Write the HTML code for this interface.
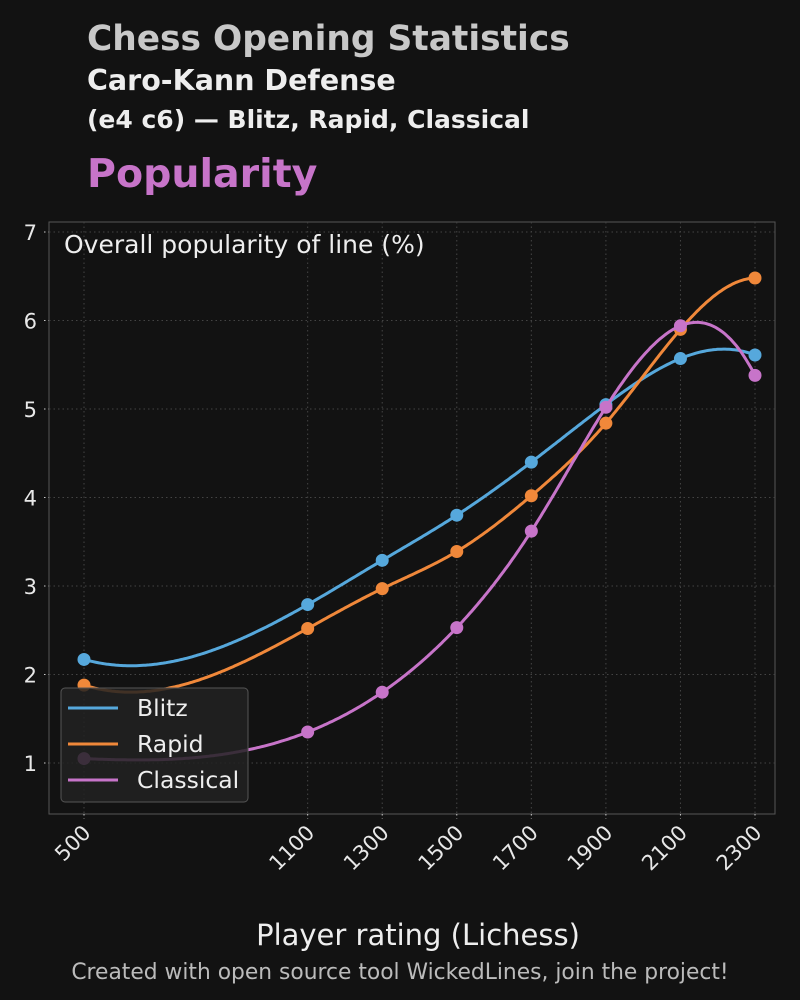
<!DOCTYPE html>
<html><head><meta charset="utf-8"><style>
body{margin:0;background:#121212;width:800px;height:996px;overflow:hidden;font-family:"DejaVu Sans","Liberation Sans",sans-serif}
</style></head><body>
<svg id="s" width="800" height="996" xmlns="http://www.w3.org/2000/svg" font-family="DejaVu Sans, Liberation Sans, sans-serif">
<rect width="800" height="996" fill="#121212"/>
<text x="87" y="50" font-size="34.4" font-weight="bold" fill="#c8c8c8">Chess Opening Statistics</text>
<text x="87" y="90" font-size="28.5" font-weight="bold" fill="#eeeeee">Caro-Kann Defense</text>
<text x="87" y="128" font-size="25" font-weight="bold" fill="#eeeeee">(e4 c6) — Blitz, Rapid, Classical</text>
<text x="87" y="187" font-size="39.5" font-weight="bold" fill="#c774c9">Popularity</text>
<rect x="49" y="222" width="726" height="592" fill="none" stroke="#555" stroke-width="1"/>
<g id="grid" stroke="#444" stroke-width="1" stroke-dasharray="1.5,3"></g>
<g id="ticks" fill="#e8e8e8" font-size="21"></g>
<text x="64" y="253" font-size="25" fill="#eeeeee">Overall popularity of line (%)</text>
<g id="series"></g>
<rect x="61" y="688" width="187" height="114" rx="4" fill="#222" fill-opacity="0.85" stroke="#555"/>
<line x1="68" y1="708" x2="118" y2="708" stroke="#56a8dc" stroke-width="3"/>
<text x="137" y="716" font-size="23.5" fill="#eeeeee">Blitz</text>
<line x1="68" y1="744" x2="118" y2="744" stroke="#f0883a" stroke-width="3"/>
<text x="137" y="752" font-size="23.5" fill="#eeeeee">Rapid</text>
<line x1="68" y1="780" x2="118" y2="780" stroke="#c774c9" stroke-width="3"/>
<text x="137" y="788" font-size="23.5" fill="#eeeeee">Classical</text>
<text x="418" y="945" font-size="29" fill="#eeeeee" text-anchor="middle">Player rating (Lichess)</text>
<text x="400" y="979" font-size="21.8" fill="#bbbbbb" text-anchor="middle">Created with open source tool WickedLines, join the project!</text>
</svg>
<script>
const NS="http://www.w3.org/2000/svg";
const X=r=>84+(r-500)*671/1800, Y=v=>763-(v-1)*88.5;
function el(t,a,p){const e=document.createElementNS(NS,t);for(const k in a)e.setAttribute(k,a[k]);document.getElementById(p).appendChild(e);return e;}
const xs=[500,1100,1300,1500,1700,1900,2100,2300];
for(let v=1;v<=7;v++){el('line',{x1:49,x2:775,y1:Y(v),y2:Y(v)},'grid');el('line',{x1:44,x2:49,y1:Y(v),y2:Y(v),stroke:'#ccc'},'grid').removeAttribute('stroke-dasharray');
 const t=el('text',{x:37,y:Y(v)+8,'text-anchor':'end'},'ticks');t.textContent=v;}
xs.forEach(r=>{el('line',{x1:X(r),x2:X(r),y1:222,y2:814},'grid');const l=el('line',{x1:X(r),x2:X(r),y1:814,y2:819,stroke:'#ccc'},'grid');l.removeAttribute('stroke-dasharray');
 const t=el('text',{x:0,y:0,'text-anchor':'end',transform:`translate(${X(r)+8},${834}) rotate(-45)`},'ticks');t.textContent=r;});
function solve(A,b){const n=b.length;for(let i=0;i<n;i++){let p=i;for(let k=i+1;k<n;k++)if(Math.abs(A[k][i])>Math.abs(A[p][i]))p=k;[A[i],A[p]]=[A[p],A[i]];[b[i],b[p]]=[b[p],b[i]];
 for(let k=i+1;k<n;k++){const f=A[k][i]/A[i][i];for(let j=i;j<n;j++)A[k][j]-=f*A[i][j];b[k]-=f*b[i];}}
 const x=new Array(n);for(let i=n-1;i>=0;i--){let s=b[i];for(let j=i+1;j<n;j++)s-=A[i][j]*x[j];x[i]=s/A[i][i];}return x;}
function spline(x,y){const n=x.length,h=[];for(let i=0;i<n-1;i++)h[i]=x[i+1]-x[i];
 const A=[],b=[];for(let i=0;i<n;i++){A.push(new Array(n).fill(0));b.push(0);}
 A[0][0]=-1/h[0];A[0][1]=1/h[0]+1/h[1];A[0][2]=-1/h[1];
 for(let i=1;i<n-1;i++){A[i][i-1]=h[i-1];A[i][i]=2*(h[i-1]+h[i]);A[i][i+1]=h[i];b[i]=6*((y[i+1]-y[i])/h[i]-(y[i]-y[i-1])/h[i-1]);}
 A[n-1][n-3]=-1/h[n-3];A[n-1][n-2]=1/h[n-3]+1/h[n-2];A[n-1][n-1]=-1/h[n-2];
 const M=solve(A,b);
 return t=>{let i=0;while(i<n-2&&t>x[i+1])i++;const a=x[i+1]-t,c=t-x[i],H=h[i];
  return M[i]*a*a*a/(6*H)+M[i+1]*c*c*c/(6*H)+(y[i]/H-M[i]*H/6)*a+(y[i+1]/H-M[i+1]*H/6)*c;};}
const S=[["#56a8dc",[2.17,2.79,3.29,3.8,4.4,5.05,5.57,5.61]],["#f0883a",[1.88,2.52,2.97,3.39,4.02,4.84,5.9,6.48]],["#c774c9",[1.05,1.35,1.8,2.53,3.62,5.02,5.94,5.38]]];
S.forEach(([c,v])=>{const f=spline(xs,v);let d="";for(let r=500;r<=2300;r+=5)d+=(r==500?"M":"L")+X(r).toFixed(1)+","+Y(f(r)).toFixed(1);
 el('path',{d,fill:'none',stroke:c,'stroke-width':3},'series');
 xs.forEach((r,i)=>el('circle',{cx:X(r),cy:Y(v[i]),r:6.5,fill:c},'series'));});
</script>
</body></html>
